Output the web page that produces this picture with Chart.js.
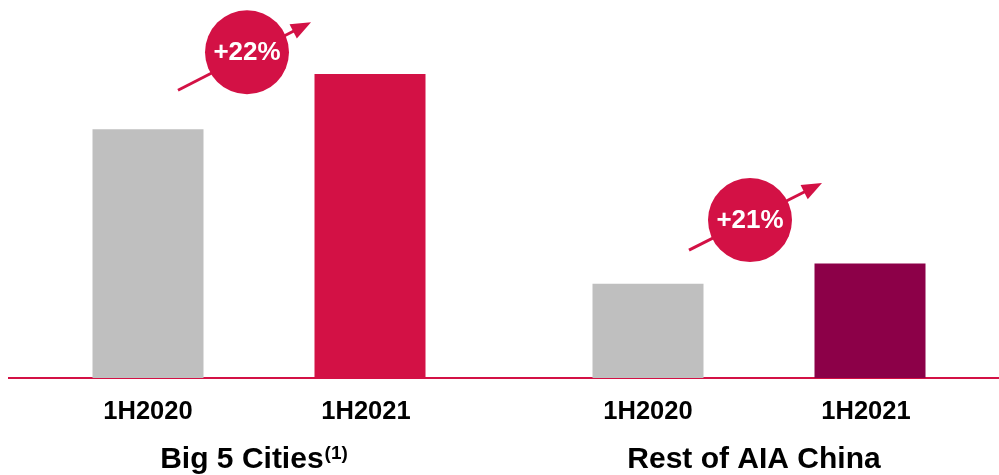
<!DOCTYPE html>
<html>
<head>
<meta charset="utf-8">
<script src="https://cdn.jsdelivr.net/npm/chart.js@4/dist/chart.umd.min.js"></script>
<style>
  html, body { margin: 0; padding: 0; background: #ffffff; overflow: hidden; }
  #wrap { width: 1010px; height: 475px; position: relative; }
</style>
</head>
<body>
<div id="wrap"><canvas id="chart"></canvas></div>
<script>
// Segments and periods
const categories = ['Big 5 Cities', 'Rest of AIA China'];
const categoryNotes = ['(1)', ''];
const periods = ['1H2020', '1H2021'];

// Values per period, one entry per segment
const values1H2020 = [100, 37.9];
const values1H2021 = [122.2, 46.0];

const GREY = '#BFBFBF';
const RED = '#D31145';
const PLUM = '#8C0048';
const FONT = '"Liberation Sans", Arial, Helvetica, sans-serif';

// Growth badges: circle with an arrow running through it
const badgeLayout = [
  { dx: -12, yValue: 131, from: [-69, 38], to: [64, -30] },
  { dx: -9, yValue: 63.5, from: [-61, 30], to: [72, -37] }
];

const annotatePlugin = {
  id: 'annotate',
  afterDatasetsDraw(chart) {
    const ctx = chart.ctx;
    const x = chart.scales.x, y = chart.scales.y;
    ctx.save();
    categories.forEach((c, i) => {
      const lay = badgeLayout[i];
      const cx = x.getPixelForValue(i) + lay.dx;
      const cy = y.getPixelForValue(lay.yValue);
      const x0 = cx + lay.from[0], y0 = cy + lay.from[1];
      const x1 = cx + lay.to[0], y1 = cy + lay.to[1];
      const len = Math.hypot(x1 - x0, y1 - y0);
      const ux = (x1 - x0) / len, uy = (y1 - y0) / len;
      const head = 20, half = 8;
      // shaft
      ctx.strokeStyle = RED;
      ctx.lineWidth = 3;
      ctx.beginPath();
      ctx.moveTo(x0, y0);
      ctx.lineTo(x1 - ux * head * 0.8, y1 - uy * head * 0.8);
      ctx.stroke();
      // head
      ctx.fillStyle = RED;
      ctx.beginPath();
      ctx.moveTo(x1, y1);
      ctx.lineTo(x1 - ux * head - uy * half, y1 - uy * head + ux * half);
      ctx.lineTo(x1 - ux * head + uy * half, y1 - uy * head - ux * half);
      ctx.closePath();
      ctx.fill();
      // circle
      ctx.beginPath();
      ctx.arc(cx, cy, 42, 0, Math.PI * 2);
      ctx.fill();
      // growth text
      const pct = Math.round((values1H2021[i] / values1H2020[i] - 1) * 100);
      ctx.fillStyle = '#ffffff';
      ctx.font = 'bold 26px ' + FONT;
      ctx.textAlign = 'center';
      ctx.textBaseline = 'middle';
      ctx.fillText('+' + pct + '%', cx, cy + 1);
    });
    ctx.restore();
  },
  afterDraw(chart) {
    const ctx = chart.ctx;
    const x = chart.scales.x;
    ctx.save();
    ctx.fillStyle = '#000000';
    ctx.textBaseline = 'alphabetic';
    // period labels under each bar
    ctx.font = 'bold 25.5px ' + FONT;
    ctx.textAlign = 'center';
    chart.data.datasets.forEach((ds, d) => {
      const meta = chart.getDatasetMeta(d);
      meta.data.forEach(bar => {
        ctx.fillText(periods[d], bar.x - (d === 1 ? 4 : 0), 419);
      });
    });
    // segment labels, centred a little left of the group centre
    categories.forEach((c, i) => {
      const gx = x.getPixelForValue(i) - 5;
      ctx.font = 'bold 30px ' + FONT;
      const w1 = ctx.measureText(c).width;
      let w2 = 0;
      if (categoryNotes[i]) {
        ctx.font = 'bold 19px ' + FONT;
        w2 = ctx.measureText(categoryNotes[i]).width + 1;
      }
      const left = gx - (w1 + w2) / 2;
      ctx.textAlign = 'left';
      ctx.font = 'bold 30px ' + FONT;
      ctx.fillText(c, left, 468);
      if (categoryNotes[i]) {
        ctx.font = 'bold 19px ' + FONT;
        ctx.fillText(categoryNotes[i], left + w1 + 1, 459);
      }
    });
    ctx.restore();
  }
};

new Chart(document.getElementById('chart'), {
  type: 'bar',
  data: {
    labels: categories,
    datasets: [
      { label: periods[0], data: values1H2020, backgroundColor: GREY },
      { label: periods[1], data: values1H2021, backgroundColor: [RED, PLUM] }
    ]
  },
  options: {
    responsive: true,
    maintainAspectRatio: false,
    animation: false,
    events: [],
    layout: { padding: { left: 9, right: 1, top: 0, bottom: 89 } },
    categoryPercentage: 0.888,
    barPercentage: 0.5,
    plugins: { legend: { display: false }, tooltip: { enabled: false } },
    scales: {
      x: {
        grid: { display: false },
        ticks: { display: false },
        border: { display: true, color: RED, width: 2 }
      },
      y: { display: false, min: 0, max: 152 }
    }
  },
  plugins: [annotatePlugin]
});
</script>
</body>
</html>
